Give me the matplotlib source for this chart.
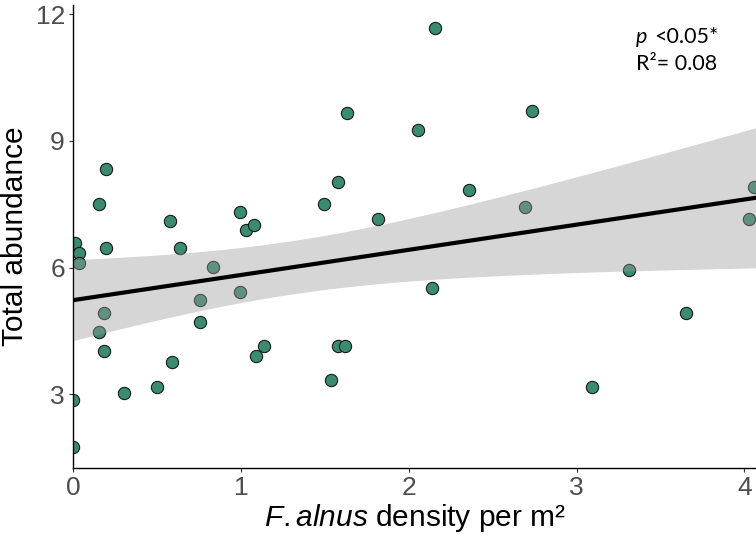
import numpy as np
import matplotlib
matplotlib.use("Agg")
import matplotlib.pyplot as plt

plt.rcParams["mathtext.fontset"] = "custom"
plt.rcParams["mathtext.rm"] = "Liberation Sans"
plt.rcParams["mathtext.it"] = "Liberation Sans:italic"

# Data
density = [0.0, 0.0, 0.01, 0.034, 0.034, 0.155, 0.195, 0.195, 0.18, 0.155,
           0.18, 0.30, 0.50, 0.59, 0.756, 0.756, 0.83, 0.995, 0.577, 0.633,
           0.995, 1.03, 1.075, 1.09, 1.134, 1.576, 1.622, 1.536, 2.136, 2.155,
           1.632, 2.054, 1.576, 1.492, 1.815, 2.356, 2.737, 2.69, 4.06, 4.03,
           3.31, 3.652, 3.09]
abundance = [1.75, 2.86, 6.59, 6.35, 6.11, 7.51, 8.33, 6.47, 4.93, 4.48,
             4.03, 3.02, 3.18, 3.77, 4.72, 5.23, 6.02, 5.42, 7.11, 6.46,
             7.31, 6.88, 7.01, 3.91, 4.15, 4.15, 4.15, 3.34, 5.51, 11.68,
             9.66, 9.25, 8.02, 7.51, 7.15, 7.84, 9.71, 7.43, 7.90, 7.15,
             5.95, 4.92, 3.18]
x_ticks = [0, 1, 2, 3, 4]
y_ticks = [3, 6, 9, 12]

x = np.array(density)
y = np.array(abundance)

# Linear fit with 95% confidence band
n = len(x)
X = np.column_stack([np.ones(n), x])
beta, *_ = np.linalg.lstsq(X, y, rcond=None)
resid = y - X @ beta
s2 = resid @ resid / (n - 2)
XtX_inv = np.linalg.inv(X.T @ X)
t_crit = 2.02
xg = np.linspace(0, 4.07, 200)
Xg = np.column_stack([np.ones_like(xg), xg])
yg = Xg @ beta
se = np.sqrt(np.einsum("ij,jk,ik->i", Xg, XtX_inv, Xg) * s2)

fig = plt.figure(figsize=(7.56, 5.35), dpi=100)
ax = fig.add_axes([0.097, 0.125, 0.903, 0.866])

ax.scatter(x, y, s=78, color="#3B8B6E", edgecolor="#1a1a1a", linewidth=0.8, zorder=2)
ax.fill_between(xg, yg - t_crit * se, yg + t_crit * se, color="#999999", alpha=0.4,
                linewidth=0, zorder=3)
ax.plot(xg, yg, color="black", linewidth=3.0, zorder=4)

ax.set_xlim(0, 4.07)
ax.set_ylim(1.25, 12.22)
ax.set_xticks(x_ticks)
ax.set_yticks(y_ticks)

for side in ["top", "right"]:
    ax.spines[side].set_visible(False)
for side in ["left", "bottom"]:
    ax.spines[side].set_linewidth(1.0)
    ax.spines[side].set_color("black")

ax.tick_params(axis="both", length=3, width=0.8, color="#333333",
               labelcolor="#4d4d4d", labelsize=19, pad=3)
for lab in ax.get_xticklabels() + ax.get_yticklabels():
    lab.set_family("Liberation Sans")

ax.set_ylabel("Total abundance", fontsize=21.5, family="Liberation Sans", color="black", labelpad=5)
ax.set_xlabel("$\\it{F{.}alnus}$ density per m²", fontsize=21.5, family="Liberation Sans",
              color="black", labelpad=1)

fig.text(0.841, 0.919, "p", fontsize=15.5, family="Lato", style="italic",
         ha="left", va="baseline")
fig.text(0.865, 0.919, "<0.05*", fontsize=15.5, family="Lato", ha="left", va="baseline")
fig.text(0.841, 0.869, "R²= 0.08", fontsize=15.5, family="Lato", ha="left", va="baseline")

fig.savefig("out.png", dpi=100)
